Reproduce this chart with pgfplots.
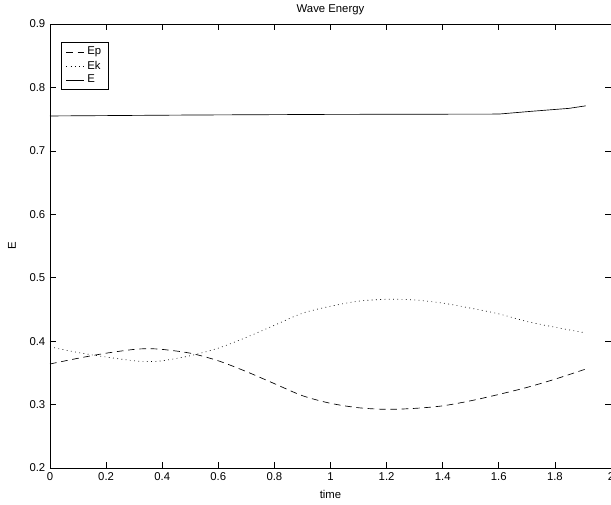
\documentclass[border=0pt]{standalone}
\usepackage{fontspec}
\setmainfont{Liberation Sans}
\usepackage{pgfplots}
\pgfplotsset{compat=1.18}
\begin{document}
\begin{tikzpicture}
\begin{axis}[
  scale only axis, width=420.75pt, height=333pt,
  xmin=0, xmax=2, ymin=0.2, ymax=0.9,
  xtick={0,0.2,0.4,0.6,0.8,1,1.2,1.4,1.6,1.8,2},
  xticklabels={0,0.2,0.4,0.6,0.8,1,1.2,1.4,1.6,1.8,2},
  ytick={0.2,0.3,0.4,0.5,0.6,0.7,0.8,0.9},
  yticklabels={0.2,0.3,0.4,0.5,0.6,0.7,0.8,0.9},
  tick align=inside, xtick pos=both, ytick pos=both,
  major tick length=4.5pt,
  tick style={black, line width=0.5pt},
  axis line style={line width=0.7pt},
  ticklabel style={font=\fontsize{8.5}{10}\selectfont},
  /pgf/number format/assume math mode=true,
  title={Wave Energy},
  title style={at={(0.5,1)}, anchor=center, yshift=4.5pt, font=\fontsize{8.5}{10}\selectfont},
  xlabel={time},
  xlabel style={at={(0.5,0)}, anchor=center, yshift=-19.5pt, font=\fontsize{8.5}{10}\selectfont},
  ylabel={E},
  ylabel style={at={(0,0.5)}, anchor=center, yshift=28.5pt, font=\fontsize{8.5}{10}\selectfont},
  legend style={at={(0.0196,0.9595)}, anchor=north west, draw=black, line width=0.6pt,
    font=\fontsize{8.5}{9}\selectfont, inner xsep=3.5pt, inner ysep=1.5pt, row sep=-1pt},
  legend cell align=left,
  legend image code/.code={\draw[#1, line width=0.5pt] (0pt,0pt) -- (13.5pt,0pt);},
]
\coordinate (o) at (rel axis cs:0,0);
\addplot[black, line width=0.5pt, dash pattern=on 5pt off 3.5pt, smooth] coordinates {
(0.00,0.364) (0.10,0.373) (0.20,0.381) (0.30,0.387) (0.35,0.388) (0.40,0.387)
(0.50,0.381) (0.60,0.369) (0.70,0.352) (0.80,0.333) (0.90,0.314) (1.00,0.302)
(1.10,0.295) (1.20,0.2925) (1.30,0.294) (1.40,0.298) (1.50,0.306) (1.60,0.316)
(1.70,0.327) (1.80,0.340) (1.91,0.356)
};
\addlegendentry{Ep\hspace{2.5pt}}
\addplot[black, line width=0.5pt, dash pattern=on 0.6pt off 2.6pt, smooth] coordinates {
(0.00,0.391) (0.10,0.382) (0.20,0.375) (0.30,0.369) (0.35,0.368) (0.40,0.369)
(0.50,0.377) (0.60,0.389) (0.70,0.406) (0.80,0.425) (0.90,0.444) (1.00,0.455)
(1.10,0.463) (1.20,0.466) (1.30,0.465) (1.40,0.460) (1.50,0.452) (1.60,0.443)
(1.70,0.431) (1.80,0.422) (1.91,0.413)
};
\addlegendentry{Ek}
\addplot[black, line width=0.5pt] coordinates {
(0.00,0.755) (0.50,0.7565) (1.00,0.7575) (1.60,0.758) (1.72,0.7625) (1.85,0.767) (1.91,0.771)
};
\addlegendentry{E}
\end{axis}
\pgfresetboundingbox
\path (o) ++(-37.5pt,-27pt) rectangle ++(458.25pt,378pt);
\end{tikzpicture}
\end{document}
